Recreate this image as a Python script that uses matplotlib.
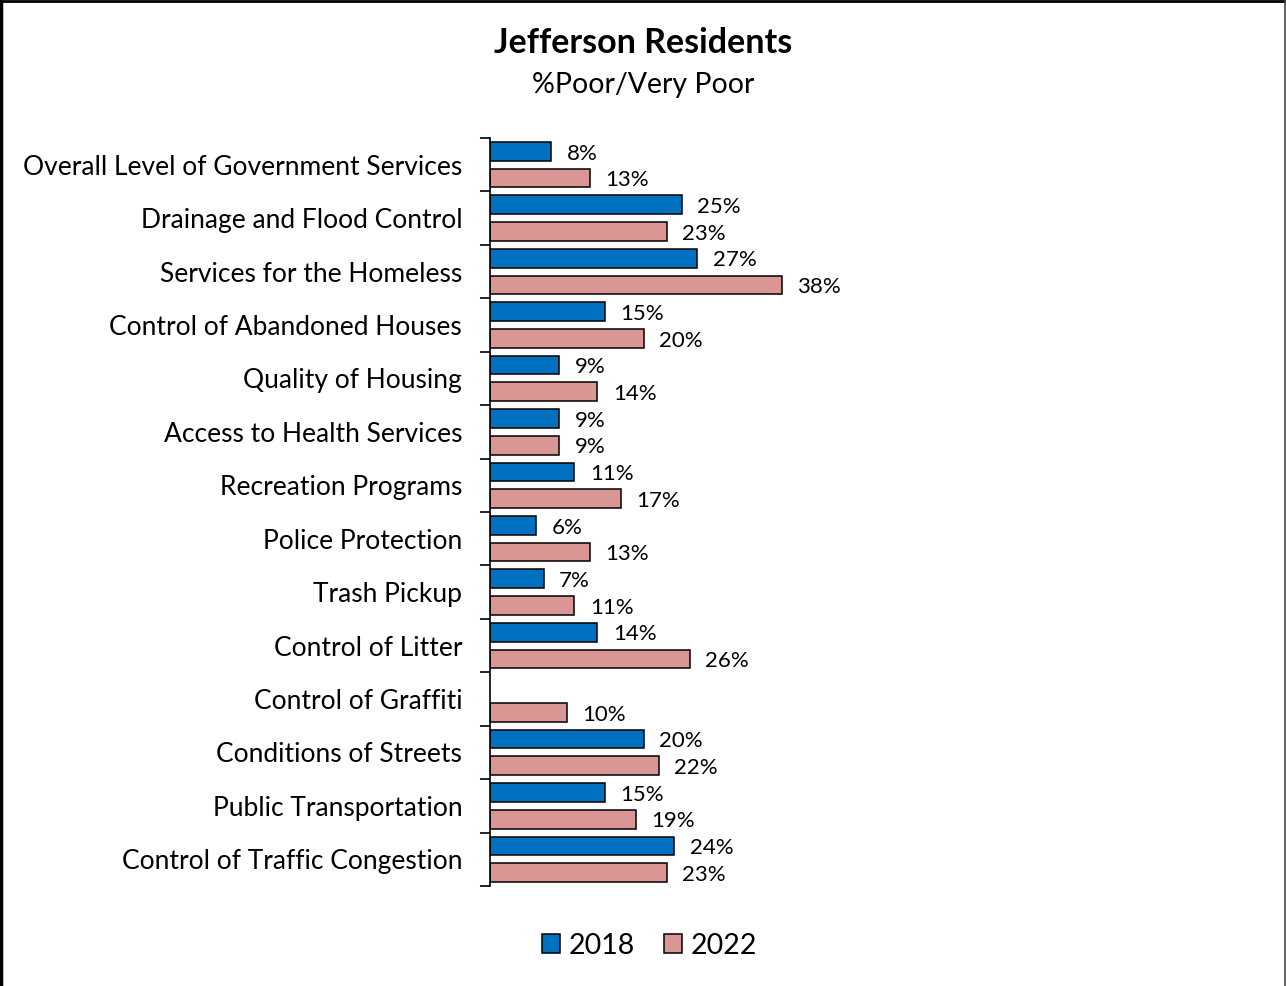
import matplotlib
matplotlib.use("Agg")
import matplotlib.pyplot as plt
from matplotlib.patches import Patch
from matplotlib.lines import Line2D
import numpy as np

categories = [
    "Overall Level of Government Services",
    "Drainage and Flood Control",
    "Services for the Homeless",
    "Control of Abandoned Houses",
    "Quality of Housing",
    "Access to Health Services",
    "Recreation Programs",
    "Police Protection",
    "Trash Pickup",
    "Control of Litter",
    "Control of Graffiti",
    "Conditions of Streets",
    "Public Transportation",
    "Control of Traffic Congestion",
]
values_2018 = [8, 25, 27, 15, 9, 9, 11, 6, 7, 14, None, 20, 15, 24]
values_2022 = [13, 23, 38, 20, 14, 9, 17, 13, 11, 26, 10, 22, 19, 23]
series_names = ["2018", "2022"]

BLUE = "#0070C0"
PINK = "#DA9694"

plt.rcParams["font.family"] = ["Lato", "DejaVu Sans"]

fig = plt.figure(figsize=(12.86, 9.86), dpi=100)
ax = fig.add_axes([0.381, 0.1014, 0.3583, 0.7586])

y = np.arange(len(categories))
offset = 0.25
height = 0.35

def draw_series(vals, dy, color):
    for yi, v in zip(y, vals):
        if v is None:
            continue
        ax.barh(yi + dy, v, height=height, color=color, edgecolor="black",
                linewidth=1.1)
        ax.text(v + 2.0, yi + dy + 0.04, f"{v}%", va="center", ha="left",
                fontsize=16)

draw_series(values_2018, -offset, BLUE)
draw_series(values_2022, offset, PINK)

ax.set_ylim(len(categories) - 0.5, -0.5)
ax.set_xlim(0, 60)

ax.set_yticks(y)
ax.set_yticklabels(categories, fontsize=19)
ax.tick_params(axis="y", which="major", length=0, pad=20)
ax.set_yticks(np.arange(len(categories) + 1) - 0.5, minor=True)
ax.tick_params(axis="y", which="minor", length=7, width=1.2, direction="out")
ax.set_xticks([])

for side in ["top", "right", "bottom"]:
    ax.spines[side].set_visible(False)
ax.spines["left"].set_linewidth(1.2)

fig.text(0.5, 0.956, "Jefferson Residents", ha="center", va="center",
         fontsize=24.5, fontweight="bold")
fig.text(0.5, 0.914, "%Poor/Very Poor", ha="center", va="center",
         fontsize=20.5)

handles = [Patch(facecolor=BLUE, edgecolor="black", linewidth=1.1),
           Patch(facecolor=PINK, edgecolor="black", linewidth=1.1)]
fig.legend(handles, series_names, loc="center", bbox_to_anchor=(0.505, 0.041),
           ncol=2, frameon=False, fontsize=20.5, handlelength=0.65,
           handleheight=0.65, handletextpad=0.3, columnspacing=1.0)

# Outer frame: left, top and right edges
fig.add_artist(Line2D([0.001, 0.001], [0, 1], transform=fig.transFigure,
                      color="black", linewidth=2.5))
fig.add_artist(Line2D([0, 1], [0.999, 0.999], transform=fig.transFigure,
                      color="black", linewidth=2.0))
fig.add_artist(Line2D([0.9995, 0.9995], [0, 1], transform=fig.transFigure,
                      color="#444444", linewidth=1.2))

fig.savefig("out.png", dpi=100, facecolor="white")
